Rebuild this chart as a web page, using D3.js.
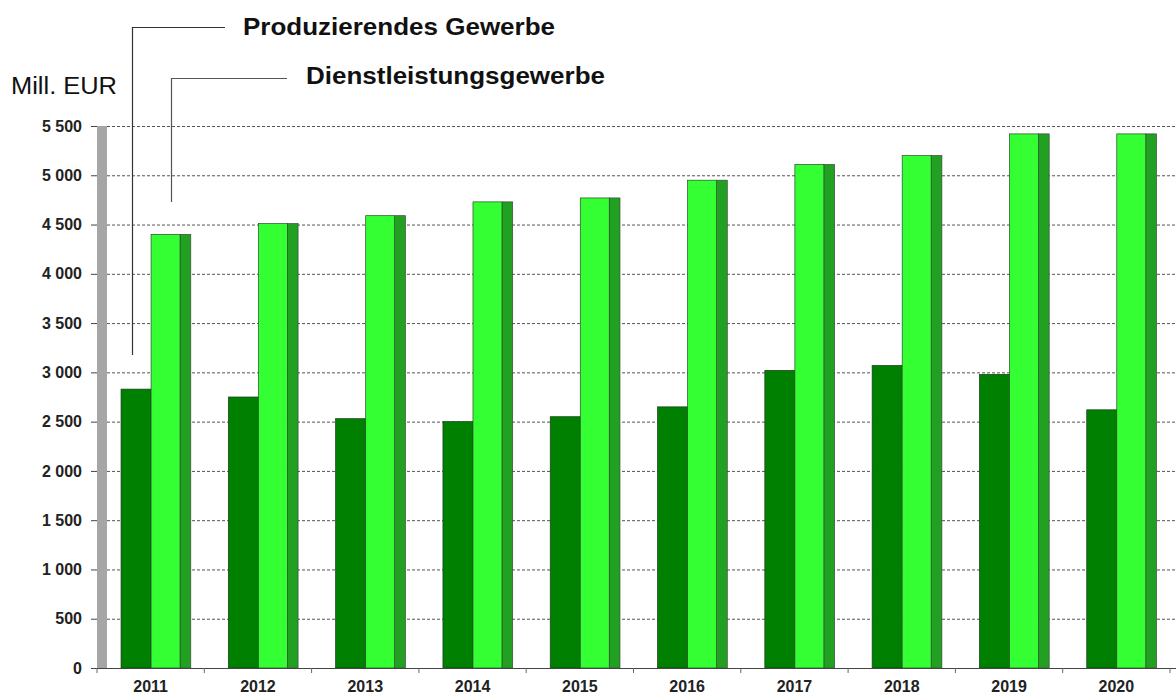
<!DOCTYPE html>
<html><head><meta charset="utf-8">
<script src="https://cdn.jsdelivr.net/npm/d3@7"></script>
<style>body{margin:0;background:#fff}svg{display:block}text{font-family:"Liberation Sans",Arial,sans-serif}</style>
</head><body><svg id="c" width="1176" height="695"></svg>
<script>
const years = ["2011","2012","2013","2014","2015","2016","2017","2018","2019","2020"];
const produzierend = [2830,2750,2530,2500,2550,2650,3020,3070,2980,2620];
const dienstleistung = [4400,4510,4590,4730,4770,4950,5110,5200,5420,5420];
const yTicks = [0,500,1000,1500,2000,2500,3000,3500,4000,4500,5000,5500];
const seriesNames = ["Produzierendes Gewerbe","Dienstleistungsgewerbe"];
const unitLabel = "Mill. EUR";

const svg = d3.select("#c");
const x0 = 97, x1 = 1170, yTop = 126, yBot = 668;
const x = d3.scaleBand().domain(years).range([x0, x1]).paddingInner(0).paddingOuter(0);
const y = d3.scaleLinear().domain([0,5500]).range([yBot, yTop]);
const fmt = v => d3.format(",")(v).replace(/,/g, " ");

// grid lines
svg.append("g").selectAll("line").data(yTicks.filter(d=>d>0)).join("line")
  .attr("x1", x0).attr("x2", 1176).attr("y1", d=>y(d)+0.5).attr("y2", d=>y(d)+0.5)
  .attr("stroke", "#555").attr("stroke-width", 1).attr("stroke-dasharray", "3,2");

// back wall (grey)
svg.append("rect").attr("x", x0).attr("y", y(5500)).attr("width", 10).attr("height", yBot - y(5500)).attr("fill", "#a6a6a6");

// y axis
const yAxis = d3.axisLeft(y).tickValues(yTicks).tickFormat(fmt).tickSize(6).tickPadding(9);
const gy = svg.append("g").attr("transform", `translate(${x0},0)`).call(yAxis);
gy.select(".domain").remove();
gy.selectAll(".tick line").attr("stroke", "#444");
gy.selectAll(".tick text").attr("font-size", 16).attr("font-weight", "bold").attr("fill", "#222")
  .attr("font-family", "Liberation Sans, Arial, sans-serif");

// bars
const bw = x.bandwidth();
const g = svg.append("g");
years.forEach((yr, i) => {
  const bx = x(yr);
  const dx = bx + bw*0.224, dw = bw*0.28;
  const lx = dx + dw, lw = bw*0.27;
  const sw = bw*0.10;
  g.append("rect").attr("x", dx).attr("y", y(produzierend[i])).attr("width", dw).attr("height", yBot - y(produzierend[i]))
    .attr("fill", "#008000").attr("stroke", "#1b3a1b").attr("stroke-width", 0.7);
  g.append("rect").attr("x", lx + lw).attr("y", y(dienstleistung[i])).attr("width", sw).attr("height", yBot - y(dienstleistung[i]))
    .attr("fill", "#22a022").attr("stroke", "#3a4a3a").attr("stroke-width", 0.7);
  g.append("rect").attr("x", lx).attr("y", y(dienstleistung[i])).attr("width", lw).attr("height", yBot - y(dienstleistung[i]))
    .attr("fill", "#33ff33").attr("stroke", "#2a4a2a").attr("stroke-width", 0.7);
});

// x axis
const gx = svg.append("g").attr("transform", `translate(0,${yBot})`);
gx.append("line").attr("x1", x0).attr("x2", 1176).attr("y1", 0.5).attr("y2", 0.5).attr("stroke", "#444");
gx.selectAll("line.t").data(years.concat(["end"])).join("line").attr("class","t")
  .attr("x1", (d,i)=>x0 + i*bw).attr("x2", (d,i)=>x0 + i*bw).attr("y1", 0).attr("y2", 5).attr("stroke", "#666");
gx.selectAll("text").data(years).join("text")
  .attr("x", d => x(d) + bw/2).attr("y", 24).attr("text-anchor", "middle")
  .attr("font-size", 16).attr("font-weight", "bold").attr("fill", "#222").text(d=>d);

// unit label
svg.append("text").attr("x", 11).attr("y", 94).attr("font-size", 23).attr("fill", "#111")
  .attr("textLength", 106).attr("lengthAdjust", "spacingAndGlyphs").text(unitLabel);

// annotation lines
svg.append("path").attr("d", `M225,27.5 H132.5 V355`).attr("fill","none").attr("stroke","#333").attr("stroke-width",1.2);
svg.append("path").attr("d", `M287,78.5 H171.5 V202`).attr("fill","none").attr("stroke","#555").attr("stroke-width",1.2);
svg.append("text").attr("x", 243).attr("y", 35).attr("font-size", 23).attr("font-weight","bold").attr("fill","#111")
  .attr("textLength", 312).attr("lengthAdjust", "spacingAndGlyphs").text(seriesNames[0]);
svg.append("text").attr("x", 306).attr("y", 84).attr("font-size", 23).attr("font-weight","bold").attr("fill","#111")
  .attr("textLength", 299).attr("lengthAdjust", "spacingAndGlyphs").text(seriesNames[1]);
</script></body></html>
